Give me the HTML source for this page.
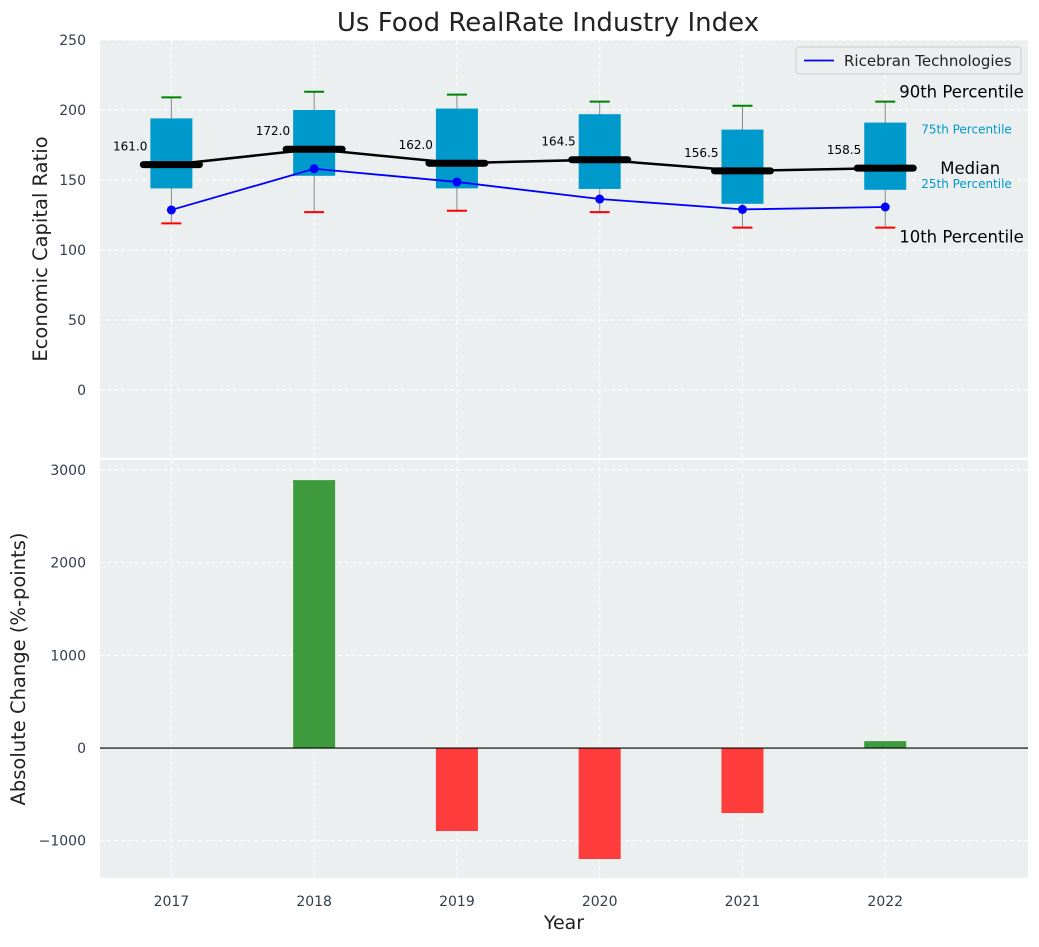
<!DOCTYPE html>
<html><head><meta charset="utf-8">
<style>
body{margin:0;background:#fff;font-family:"Liberation Sans","DejaVu Sans",sans-serif;}
svg text{font-family:"DejaVu Sans","Liberation Sans",sans-serif;}
</style></head>
<body>
<svg id="c" width="1039" height="942" xmlns="http://www.w3.org/2000/svg"></svg>
<script>
const years=["2017","2018","2019","2020","2021","2022"];
const p90=[209,213,211,206,203,206];
const p75=[194,200,201,197,186,191];
const medians=[161,172,162,164.5,156.5,158.5];
const p25=[144,153,144,143.6,133,143];
const p10=[119,127,128,127,116,116];
const company=[128.6,158,148.6,136.4,129,130.7];
const changes=[0,2891,-895,-1197,-701,75];
const topTicks=[0,50,100,150,200,250];
const botTicks=[-1000,0,1000,2000,3000];

const NS="http://www.w3.org/2000/svg";
const svg=document.getElementById('c');
function el(t,a,txt){const e=document.createElementNS(NS,t);for(const k in a)e.setAttribute(k,a[k]);if(txt!==undefined)e.textContent=txt;svg.appendChild(e);return e;}
const X0=100,X1=1028;
const x=i=>X0+(i+0.5)/6.5*(X1-X0);
const T0=40,T1=458,tmin=-48.6,tmax=250;
const yt=v=>T1-(v-tmin)/(tmax-tmin)*(T1-T0);
const B0=460,B1=878,bmin=-1402,bmax=3108;
const yb=v=>B1-(v-bmin)/(bmax-bmin)*(B1-B0);

let e;
e=el('rect',{x:X0,y:T0,width:X1-X0,height:T1-T0,fill:'#ebeff0'});

e=el('rect',{x:X0,y:B0,width:X1-X0,height:B1-B0,fill:'#ebeff0'});


topTicks.forEach(v=>{
 e=el('line',{x1:X0,x2:X1,y1:yt(v),y2:yt(v),stroke:'#fff','stroke-dasharray':'4,3'});
 
 e=el('text',{x:86,y:yt(v)+5,'text-anchor':'end','font-size':14,fill:'#333d4d'},v);
 
});
botTicks.forEach(v=>{
 e=el('line',{x1:X0,x2:X1,y1:yb(v),y2:yb(v),stroke:'#fff','stroke-dasharray':'4,3'});
 
 e=el('text',{x:86,y:yb(v)+5,'text-anchor':'end','font-size':14,fill:'#333d4d'},v<0?'\u2212'+(-v):v);
 
});
years.forEach((yr,i)=>{
 [[T0,T1],[B0,B1]].forEach(r=>{
  e=el('line',{x1:x(i),x2:x(i),y1:r[0],y2:r[1],stroke:'#fff','stroke-dasharray':'4,3'});
  
 });
 e=el('text',{x:x(i),y:906,'text-anchor':'middle','font-size':14,fill:'#333d4d'},yr);
 
});

const bw=42;
years.forEach((yr,i)=>{
 const cx=x(i);
 e=el('line',{x1:cx,x2:cx,y1:yt(p90[i]),y2:yt(p10[i]),stroke:'#888','stroke-width':1});
 
 e=el('rect',{x:cx-bw/2,y:yt(p75[i]),width:bw,height:yt(p25[i])-yt(p75[i]),fill:'#0099cc'});
 
 e=el('line',{x1:cx-10,x2:cx+10,y1:yt(p90[i]),y2:yt(p90[i]),stroke:'green','stroke-width':2});
 
 e=el('line',{x1:cx-10,x2:cx+10,y1:yt(p10[i]),y2:yt(p10[i]),stroke:'red','stroke-width':2});
 
});
let d=medians.map((m,i)=>(i?'L':'M')+x(i)+','+yt(m)).join('');
e=el('path',{d:d,fill:'none',stroke:'#000','stroke-width':2.5});

medians.forEach((m,i)=>{
 e=el('line',{x1:x(i)-28,x2:x(i)+28,y1:yt(m),y2:yt(m),stroke:'#000','stroke-width':7,'stroke-linecap':'round'});
 
 e=el('text',{x:x(i)-24,y:yt(m)-14,'text-anchor':'end','font-size':12,fill:'#000'},m.toFixed(1));
 
});
d=company.map((m,i)=>(i?'L':'M')+x(i)+','+yt(m)).join('');
e=el('path',{d:d,fill:'none',stroke:'blue','stroke-width':1.8});

company.forEach((m,i)=>{
 e=el('circle',{cx:x(i),cy:yt(m),r:4.5,fill:'blue'});
 
});
const L=x(5);
[['90th Percentile',L+14,yt(p90[5])-4,16.5,'#000'],['75th Percentile',L+36,yt(p75[5])+11,12,'#0099cc'],
 ['Median',L+55,yt(medians[5])+6,16.5,'#000'],['25th Percentile',L+36,yt(p25[5])-2,12,'#0099cc'],
 ['10th Percentile',L+14,yt(p10[5])+15,16.5,'#000']].forEach(a=>{
 e=el('text',{x:a[1],y:a[2],'font-size':a[3],fill:a[4]},a[0]);
 
});

changes.forEach((v,i)=>{
 if(v===0)return;
 const y1=yb(Math.max(v,0)),y2=yb(Math.min(v,0));
 e=el('rect',{x:x(i)-21,y:y1,width:42,height:y2-y1,fill:v>0?'#3d9a3d':'#ff3c3c'});
 
});
e=el('line',{x1:X0,x2:X1,y1:yb(0),y2:yb(0),stroke:'#000','stroke-width':1.2});


e=el('rect',{x:796,y:47,width:225,height:27,rx:3,fill:'#ebeff0',stroke:'#ccc'});

e=el('line',{x1:804,x2:834,y1:60.5,y2:60.5,stroke:'blue','stroke-width':1.8});

e=el('text',{x:844,y:66,'font-size':15,fill:'#222'},'Ricebran Technologies');


e=el('text',{x:548,y:31,'text-anchor':'middle','font-size':26,fill:'#222'},'Us Food RealRate Industry Index');

e=el('text',{x:0,y:0,'text-anchor':'middle','font-size':19.5,fill:'#222',transform:'translate(47,249) rotate(-90)'},'Economic Capital Ratio');

e=el('text',{x:0,y:0,'text-anchor':'middle','font-size':19.5,fill:'#222',transform:'translate(25,669) rotate(-90)'},'Absolute Change (%-points)');

e=el('text',{x:564,y:929,'text-anchor':'middle','font-size':19,fill:'#222'},'Year');

</script>
</body></html>
